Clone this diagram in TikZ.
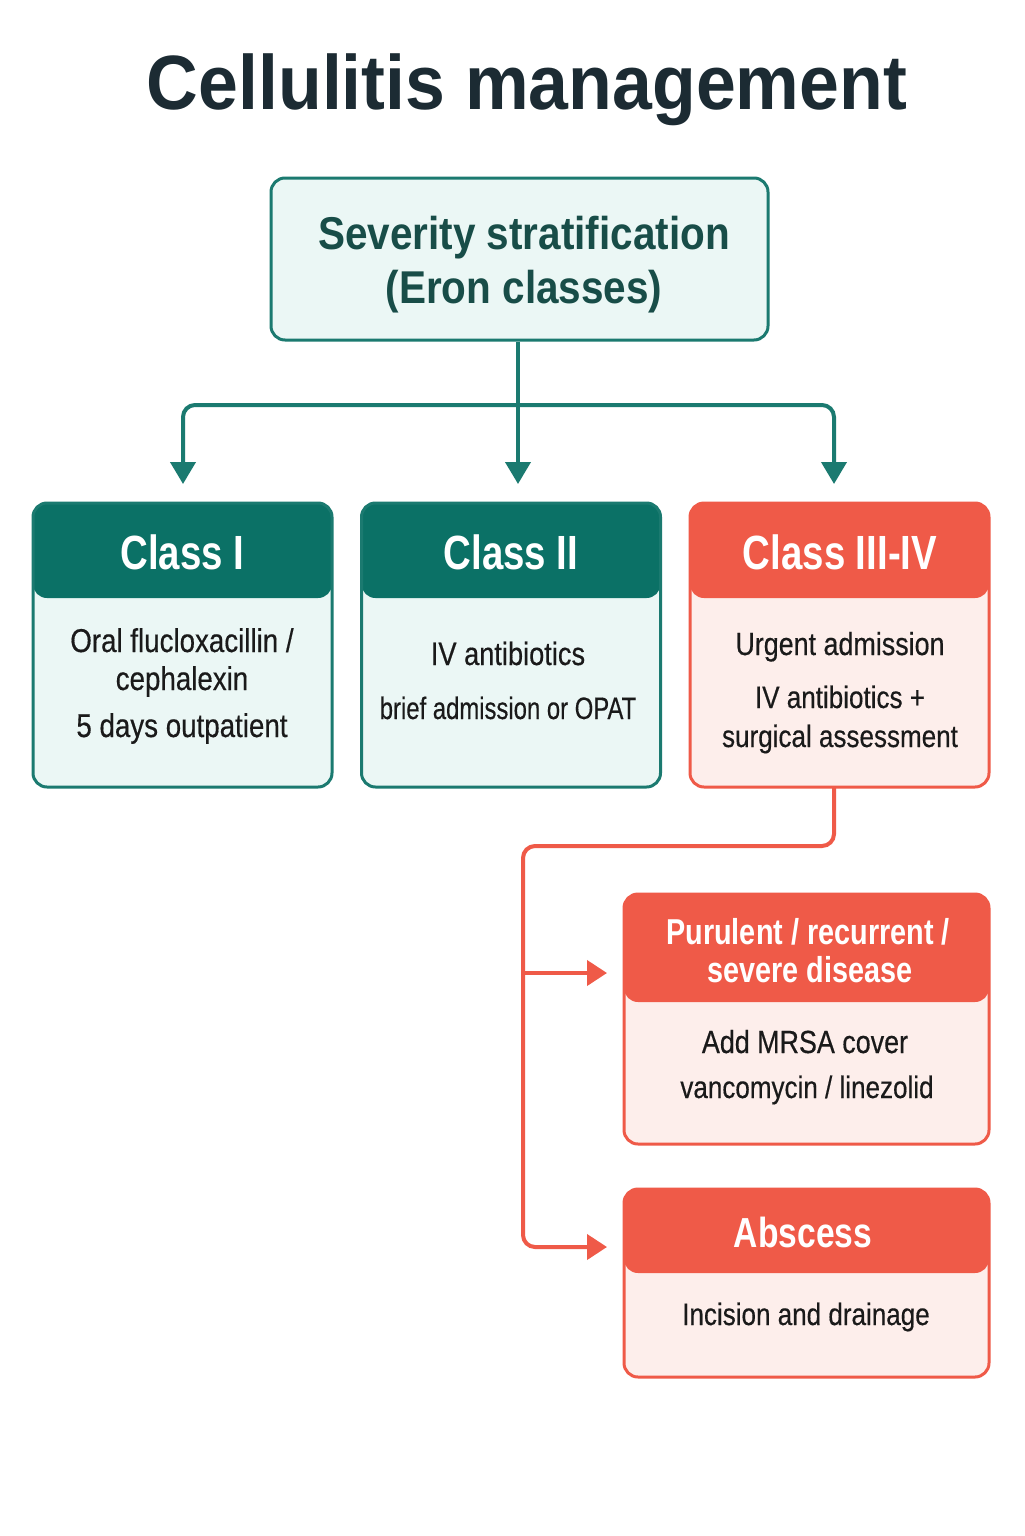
\documentclass[tikz,border=0pt]{standalone}
\usepackage{fontspec}
\setmainfont{Liberation Sans}
\newfontfamily\titlefont[FakeStretch=0.93]{Liberation Sans}
\newfontfamily\topfont[FakeStretch=0.88]{Liberation Sans}
\newfontfamily\headfont[FakeStretch=0.8]{Liberation Sans}
\newfontfamily\bodyfont[FakeStretch=0.84,FakeBold=0.4]{Liberation Sans}
\newfontfamily\bodynarrow[FakeStretch=0.77,FakeBold=0.4]{Liberation Sans}
\usetikzlibrary{arrows.meta}
\definecolor{tealH}{HTML}{0B7166}
\definecolor{tealB}{HTML}{1B7A70}
\definecolor{tealL}{HTML}{EBF7F5}
\definecolor{tealT}{HTML}{184D48}
\definecolor{redH}{HTML}{EF5A48}
\definecolor{redL}{HTML}{FDEEEB}
\definecolor{titleC}{HTML}{1C2B33}
\definecolor{bodyC}{HTML}{1A1A1A}
\tikzset{
  boxbase/.style={rectangle, rounded corners=7pt, line width=1.5pt, inner sep=0pt},
  tealbox/.style={boxbase, draw=tealB, fill=tealL},
  redbox/.style={boxbase, draw=redH, fill=redL},
  headband/.style 2 args={path picture={\fill[#1] (path picture bounding box.north west) rectangle ([yshift=-#2]path picture bounding box.north east);}},
  titletxt/.style={font=\titlefont\bfseries\fontsize{38.5}{40}\selectfont, text=titleC, anchor=base, inner sep=0pt},
  toptxt/.style={font=\topfont\bfseries\fontsize{23}{25}\selectfont, text=tealT, anchor=base, inner sep=0pt},
  headtxt/.style={font=\headfont\bfseries\fontsize{24}{26}\selectfont, text=white, anchor=base, inner sep=0pt},
  subhead/.style={font=\headfont\bfseries\fontsize{18}{20}\selectfont, text=white, anchor=base, inner sep=0pt},
  bodytxt/.style={font=\bodyfont\fontsize{15.5}{17}\selectfont, text=bodyC, anchor=base, inner sep=0pt},
  tline/.style={draw=tealB, line width=2pt},
  tarrow/.style={tline, -{Triangle[width=12.5pt,length=11pt]}},
  rline/.style={draw=redH, line width=2pt},
  rarrow/.style={rline, -{Triangle[width=12.5pt,length=10pt]}},
}
\begin{document}
\begin{tikzpicture}[x=0.5pt,y=-0.5pt]
\useasboundingbox[fill=white] (0,0) rectangle (1024,1536);

\node[titletxt] (title) at (527,110) {Cellulitis management};

% top box
\node[tealbox, minimum width=248.5pt, minimum height=81pt] (top) at (519.5,259) {};
\node[toptxt] (topa) at (524,249) {Severity stratification};
\node[toptxt] (topb) at (524,303) {(Eron classes)};

% class boxes
\node[tealbox, headband={tealH}{47.5pt}, minimum width=149.5pt, minimum height=142pt] (c1) at (182.5,645) {};
\node[tealbox, headband={tealH}{47.5pt}, minimum width=149.5pt, minimum height=142pt] (c2) at (511,645) {};
\node[redbox, headband={redH}{47.5pt}, minimum width=149.5pt, minimum height=142pt] (c3) at (839.5,645) {};

\node[headtxt] (h1) at (182.5,569) {Class I};
\node[headtxt] (h2) at (511,569) {Class II};
\node[headtxt] (h3) at (840,569) {Class III-IV};

\node[bodytxt, font=\bodyfont\fontsize{16.5}{18}\selectfont] (b1a) at (182,652) {Oral flucloxacillin /};
\node[bodytxt, font=\bodyfont\fontsize{16.5}{18}\selectfont] (b1b) at (182,690) {cephalexin};
\node[bodytxt, font=\bodyfont\fontsize{16.5}{18}\selectfont] (b1c) at (182,737) {5 days outpatient};

\node[bodytxt, font=\bodyfont\fontsize{16.2}{18}\selectfont] (b2a) at (508,665) {IV antibiotics};
\node[bodytxt, font=\bodynarrow\fontsize{15.5}{17}\selectfont] (b2b) at (508,719) {brief admission or OPAT};

\node[bodytxt, font=\bodyfont\fontsize{16}{18}\selectfont] (b3a) at (840,655) {Urgent admission};
\node[bodytxt] (b3b) at (840,708) {IV antibiotics +};
\node[bodytxt] (b3c) at (840,747) {surgical assessment};

% lower red boxes
\node[redbox, headband={redH}{54pt}, minimum width=182.5pt, minimum height=125pt] (p1) at (806.5,1019) {};
\node[subhead] (p1a) at (808,944) {Purulent / recurrent /};
\node[subhead] (p1b) at (810,982) {severe disease};
\node[bodytxt, font=\bodyfont\fontsize{16}{18}\selectfont] (p1c) at (805,1053) {Add MRSA cover};
\node[bodytxt] (p1d) at (807,1098) {vancomycin / linezolid};

\node[redbox, headband={redH}{42pt}, minimum width=182.5pt, minimum height=94pt] (p2) at (806.5,1283) {};
\node[headtxt, font=\headfont\bfseries\fontsize{21}{23}\selectfont] (p2a) at (803,1247) {Abscess};
\node[bodytxt] (p2b) at (806,1325) {Incision and drainage};

% teal connectors
\coordinate (j) at (518,405);
\coordinate (a1) at (183,484);
\coordinate (a2) at (518,484);
\coordinate (a3) at (834,484);
\draw[tline] (top.south -| j) -- (j);
\draw[tarrow, rounded corners=6pt] (j) -| (a1);
\draw[tarrow, rounded corners=6pt] (j) -| (a3);
\draw[tarrow] (j) -- (a2);

% red connectors
\coordinate (r0) at (834,786);
\coordinate (r1) at (523,846);
\coordinate (k1) at (523,973);
\coordinate (e1) at (607,973);
\coordinate (e2) at (607,1247);
\draw[rarrow, rounded corners=6pt] (r0) |- (r1) |- (e2);
\draw[rarrow] (k1) -- (e1);
\end{tikzpicture}
\end{document}
